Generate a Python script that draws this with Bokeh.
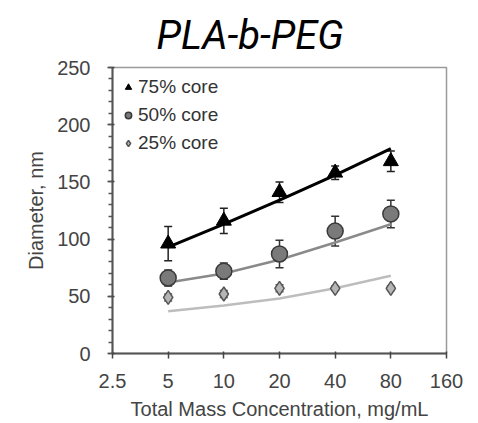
from bokeh.plotting import figure
from bokeh.models import (ColumnDataSource, Whisker, TeeHead, FixedTicker,
                          Legend, LegendItem)
from bokeh.embed import file_html
from bokeh.resources import INLINE

conc = [5, 10, 20, 40, 80]
x_ticks = [2.5, 5, 10, 20, 40, 80, 160]
x_tick_labels = ["2.5", "5", "10", "20", "40", "80", "160"]

d75 = [96, 116, 141, 158, 168]
e75 = [15, 11, 9, 6, 9]
fit75 = [93, 113, 134, 156, 179]

d50 = [66, 72, 87, 107, 122]
e50 = [7, 7, 12, 13, 12]
fit50 = [62, 70, 82, 97, 113]

d25 = [49, 52, 57, 57, 57]
e25 = [3, 3, 3, 2, 2]
fit25 = [37, 42, 48, 57, 68]

p = figure(width=478, height=423, output_backend="svg", toolbar_location=None,
           x_axis_type="log", x_range=(2.5, 160), y_range=(0, 250),
           min_border_left=112, min_border_right=32, min_border_top=67,
           min_border_bottom=70, title="PLA-b-PEG")
p.frame_width = 334
p.frame_height = 286
p.grid.visible = False
p.outline_line_color = "#9a9a9a"
p.outline_line_width = 1.5

p.title.text_font = "Roboto"
p.title.text_font_style = "italic"
p.title.text_font_size = "40px"
p.title.text_color = "#000000"
p.title.align = "left"
p.title.offset = 44
p.title.standoff = 18

# fits
p.line(conc, fit25, line_color="#bdbdbd", line_width=2.5)
p.line(conc, fit50, line_color="#8a8a8a", line_width=2.5)
p.line(conc, fit75, line_color="#000000", line_width=3)

def add_err(vals, errs, color):
    src = ColumnDataSource(dict(x=conc, lo=[v - e for v, e in zip(vals, errs)],
                                hi=[v + e for v, e in zip(vals, errs)]))
    w = Whisker(source=src, base="x", lower="lo", upper="hi", line_color=color,
                line_width=1.5,
                upper_head=TeeHead(size=8, line_color=color, line_width=1.5),
                lower_head=TeeHead(size=8, line_color=color, line_width=1.5))
    p.add_layout(w)

add_err(d75, e75, "#222222")
add_err(d50, e50, "#333333")
add_err(d25, e25, "#555555")

r75 = p.scatter(conc, d75, marker="triangle", size=15, fill_color="#000000",
                line_color="#000000")
r50 = p.scatter(conc, d50, marker="circle", size=16, fill_color="#7a7a7a",
                line_color="#3a3a3a", line_width=1.5)
r25 = p.scatter(conc, d25, marker="diamond", size=14, fill_color="#b5b5b5",
                line_color="#555555", line_width=1.5)

legend = Legend(items=[LegendItem(label="75% core", renderers=[r75]),
                       LegendItem(label="50% core", renderers=[r50]),
                       LegendItem(label="25% core", renderers=[r25])],
                location="top_left", background_fill_alpha=0, border_line_alpha=0,
                label_text_font="Liberation Sans", label_text_font_size="19px",
                label_text_color="#333333", glyph_width=16, glyph_height=24,
                label_standoff=2, spacing=4, padding=2, margin=6)
p.add_layout(legend)

# axes
xa = p.xaxis[0]
xa.ticker = FixedTicker(ticks=x_ticks, minor_ticks=[])
xa.major_label_overrides = {t: l for t, l in zip(x_ticks, x_tick_labels)}
xa.axis_label = "Total Mass Concentration, mg/mL"
ya = p.yaxis[0]
ya.ticker = FixedTicker(ticks=[0, 50, 100, 150, 200, 250],
                        minor_ticks=list(range(0, 251, 10)))
ya.axis_label = "Diameter, nm"
for ax in (xa, ya):
    ax.axis_line_color = "#555555"
    ax.axis_line_width = 2
    ax.major_tick_line_color = "#444444"
    ax.major_tick_line_width = 1.5
    ax.major_tick_out = 5
    ax.major_tick_in = 2
    ax.minor_tick_line_color = "#555555"
    ax.minor_tick_line_width = 1.5
    ax.minor_tick_out = 4
    ax.minor_tick_in = 0
    ax.major_label_text_font = "Liberation Sans"
    ax.major_label_text_font_size = "20px"
    ax.major_label_text_color = "#444444"
    ax.axis_label_text_font = "Liberation Sans"
    ax.axis_label_text_font_size = "20px"
    ax.axis_label_text_font_style = "normal"
    ax.axis_label_text_color = "#444444"
xa.major_label_standoff = 15
ya.major_label_standoff = 17
xa.axis_label_standoff = 7
ya.axis_label_standoff = 7

open("out.html", "w").write(file_html(p, INLINE))
